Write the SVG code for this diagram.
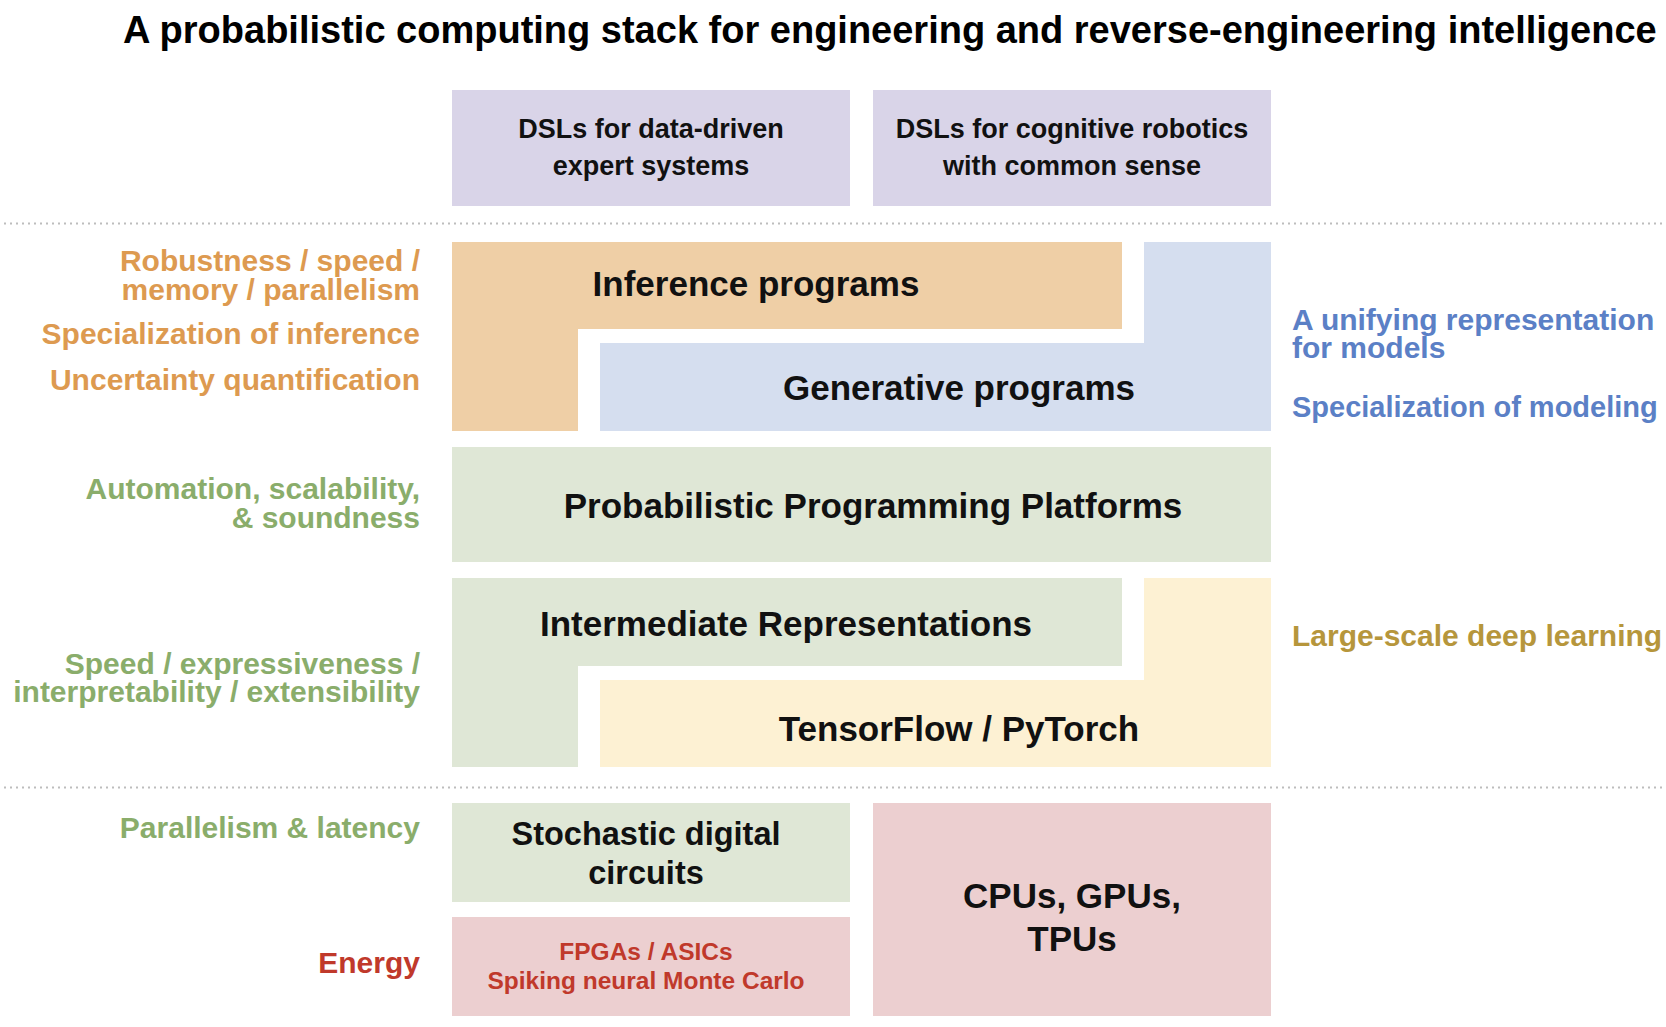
<svg xmlns="http://www.w3.org/2000/svg" width="1666" height="1027" viewBox="0 0 1666 1027">
<style>
text { font-family: "Liberation Sans", Arial, sans-serif; font-weight: bold; }
.title { font-size: 38px; fill: #000; }
.dsl { font-size: 27px; fill: #111; text-anchor: middle; }
.big { font-size: 35px; fill: #111; text-anchor: middle; }
.mid { font-size: 32.5px; fill: #111; text-anchor: middle; }
.small { font-size: 24.5px; fill: #c0392b; text-anchor: middle; }
.lab { font-size: 30px; }
.left { text-anchor: end; }
.orange { fill: #dd9a50; }
.green { fill: #8aad6b; }
.blue { fill: #5b80c6; }
.gold { fill: #b6963c; }
.red { fill: #c0392b; }
.sep { stroke: #bdbdbd; stroke-width: 2; stroke-dasharray: 2 4; fill: none; }
</style>
<rect width="1666" height="1027" fill="#ffffff"/>
<text class="title" x="123" y="43">A probabilistic computing stack for engineering and reverse-engineering intelligence</text>
<g id="separators">
<line class="sep" x1="4" y1="223.5" x2="1666" y2="223.5"/>
<line class="sep" x1="4" y1="787.5" x2="1666" y2="787.5"/>
</g>
<g id="connectors"/>
<g id="dsl-expert">
<rect x="452" y="90" width="398" height="116" fill="#d9d4e8"/>
<text class="dsl" x="651" y="138">DSLs for data-driven</text>
<text class="dsl" x="651" y="175">expert systems</text>
</g>
<g id="dsl-robotics">
<rect x="873" y="90" width="398" height="116" fill="#d9d4e8"/>
<text class="dsl" x="1072" y="138">DSLs for cognitive robotics</text>
<text class="dsl" x="1072" y="175">with common sense</text>
</g>
<g id="inference">
<path d="M452,242 H1122 V329 H578 V431 H452 Z" fill="#efcfa6"/>
<text class="big" x="756" y="296">Inference programs</text>
</g>
<g id="generative">
<path d="M1144,242 H1271 V431 H600 V343 H1144 Z" fill="#d5deef"/>
<text class="big" x="959" y="400">Generative programs</text>
</g>
<g id="ppp">
<rect x="452" y="447" width="819" height="115" fill="#dfe7d6"/>
<text class="big" x="873" y="518">Probabilistic Programming Platforms</text>
</g>
<g id="ir">
<path d="M452,578 H1122 V666 H578 V767 H452 Z" fill="#dfe7d6"/>
<text class="big" x="786" y="636">Intermediate Representations</text>
</g>
<g id="tf">
<path d="M1144,578 H1271 V767 H600 V680 H1144 Z" fill="#fdf1d3"/>
<text class="big" x="959" y="741">TensorFlow / PyTorch</text>
</g>
<g id="stochastic">
<rect x="452" y="803" width="398" height="99" fill="#dfe7d6"/>
<text class="mid" x="646" y="845">Stochastic digital</text>
<text class="mid" x="646" y="884">circuits</text>
</g>
<g id="fpga">
<rect x="452" y="917" width="398" height="99" fill="#eccfd0"/>
<text class="small" x="646" y="960">FPGAs / ASICs</text>
<text class="small" x="646" y="989">Spiking neural Monte Carlo</text>
</g>
<g id="cpu">
<rect x="873" y="803" width="398" height="213" fill="#eccfd0"/>
<text class="big" x="1072" y="908">CPUs, GPUs,</text>
<text class="big" x="1072" y="951">TPUs</text>
</g>
<g id="labels-left">
<text class="lab left orange" x="420" y="271">Robustness / speed /</text>
<text class="lab left orange" x="420" y="300">memory / parallelism</text>
<text class="lab left orange" x="420" y="344">Specialization of inference</text>
<text class="lab left orange" x="420" y="390">Uncertainty quantification</text>
<text class="lab left green" x="420" y="499">Automation, scalability,</text>
<text class="lab left green" x="420" y="528">&amp; soundness</text>
<text class="lab left green" x="420" y="674">Speed / expressiveness /</text>
<text class="lab left green" x="420" y="702">interpretability / extensibility</text>
<text class="lab left green" x="420" y="838">Parallelism &amp; latency</text>
<text class="lab left red" x="420" y="973">Energy</text>
</g>
<g id="labels-right">
<text class="lab blue" x="1292" y="330">A unifying representation</text>
<text class="lab blue" x="1292" y="358">for models</text>
<text class="lab blue" x="1292" y="417" style="font-size:29px">Specialization of modeling</text>
<text class="lab gold" x="1292" y="646">Large-scale deep learning</text>
</g>
</svg>
